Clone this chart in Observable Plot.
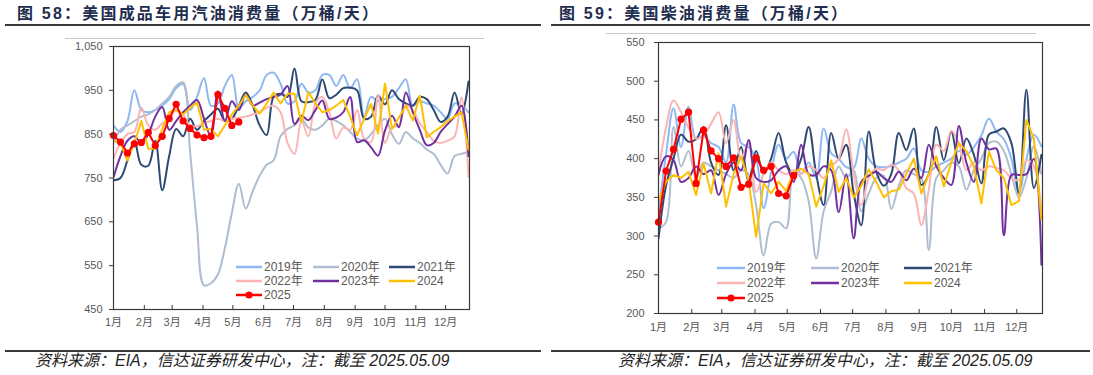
<!DOCTYPE html>
<html><head><meta charset="utf-8">
<script src="https://cdn.jsdelivr.net/npm/d3@7"></script>
<script src="https://cdn.jsdelivr.net/npm/@observablehq/plot@0.6"></script>
<style>
body{margin:0;background:#fff;width:1093px;height:375px;position:relative;overflow:hidden;font-family:"Liberation Sans","Noto Sans CJK SC",sans-serif;}
.abs{position:absolute;}
.title{position:absolute;top:4px;font-weight:bold;font-size:16px;letter-spacing:2.2px;line-height:20px;color:#1f2d4f;font-family:"Liberation Sans","Noto Sans CJK SC",sans-serif;white-space:nowrap;}
.rule{position:absolute;height:2px;background:#3a3a3a;}
.thin{position:absolute;height:1px;background:#c8c8c8;}
.foot{position:absolute;top:352px;font-style:italic;font-size:16px;line-height:18px;color:#222;white-space:nowrap;font-family:"Liberation Sans","Noto Sans CJK SC",sans-serif;}
.leg{position:absolute;font-size:12px;line-height:14px;color:#595959;white-space:nowrap;}
</style>
</head><body>
<div id="root"></div>
<script>
// ---------- shared labels ----------
const monthLabels = ["1月","2月","3月","4月","5月","6月","7月","8月","9月","10月","11月","12月"];
const monthStartDays = [0,31,59,90,120,151,181,212,243,273,304,334];
const seriesNames = ["2019年","2020年","2021年","2022年","2023年","2024","2025"];
const seriesColors = ["#8FB9F2","#B0BDD0","#2E4A74","#FBB4B4","#7030A0","#FFC000","#FF0000"];
const smoothFlags = [true,true,true,true,true,false,false];

// ---------- gasoline (万桶/天) weekly ----------
const gas2019 = [870,855,880,950,905,900,905,915,930,955,965,905,935,978,915,920,960,985,910,925,935,950,985,990,965,920,925,965,945,950,985,985,960,985,955,975,890,935,925,930,935,955,975,915,925,920,915,900,885,920,915,900];
const gas2020 = [830,860,870,880,890,895,905,920,935,960,968,810,640,505,510,530,590,670,737,680,720,755,780,790,845,862,870,885,865,860,870,885,880,870,855,840,836,850,870,885,850,828,855,840,830,815,805,780,760,800,805,810];
const gas2021 = [745,750,790,835,780,778,835,722,800,862,845,885,860,880,895,908,880,885,915,945,915,870,848,935,942,935,1000,925,923,928,975,932,940,955,956,950,885,890,938,918,950,930,920,915,935,930,905,878,890,945,895,970];
const gas2022 = [795,830,850,855,910,870,860,875,885,905,895,870,868,875,880,885,880,885,888,890,895,900,910,915,900,830,805,880,845,920,935,900,840,865,860,905,840,832,940,830,865,870,915,905,875,855,835,830,835,845,935,752];
const gas2023 = [752,800,835,845,830,850,890,912,860,880,900,915,928,885,845,948,880,925,905,940,915,922,930,935,940,960,873,892,882,905,927,885,888,900,935,832,836,820,801,858,892,866,945,900,860,825,830,855,873,890,915,800];
const gas2024 = [835,830,790,830,880,817,817,862,900,905,895,910,922,860,862,845,870,895,915,940,915,897,920,945,920,942,942,877,946,920,900,905,915,928,890,847,885,919,851,965,862,888,915,881,938,843,855,866,880,890,900,815];
const gas2025 = [847,832,807,828,831,854,824,845,886,918,880,863,848,842,845,940,909,870,878];
const gasTicks = [450,550,650,750,850,950,1050];

// ---------- diesel (万桶/天) weekly ----------
const dsl2019 = [330,405,465,415,467,425,430,420,415,395,470,420,415,400,336,383,418,400,409,380,395,375,439,407,400,389,388,426,400,390,389,390,395,400,413,385,383,390,395,400,410,405,415,430,452,435,425,400,357,400,431,416];
const dsl2020 = [310,318,441,390,410,375,395,390,385,380,375,385,380,340,275,316,318,310,383,375,345,271,332,358,390,375,385,332,355,375,378,335,365,385,380,375,282,375,385,395,390,360,385,400,420,422,410,380,350,375,416,380];
const dsl2021 = [297,365,400,431,422,425,441,395,379,443,385,415,370,410,380,400,433,395,380,400,441,380,340,433,400,418,355,314,435,383,365,380,433,411,439,366,380,441,398,435,394,426,405,368,431,435,439,420,355,489,362,405];
const dsl2022 = [383,440,475,460,440,426,430,445,460,420,450,400,420,357,380,395,385,380,385,380,390,385,375,390,400,438,380,340,375,387,385,392,385,362,355,314,360,418,410,436,420,385,395,385,390,388,385,375,372,398,390,330];
const dsl2023 = [379,403,398,370,375,390,380,385,353,380,395,385,424,375,370,372,385,390,370,418,380,379,390,385,331,380,297,370,378,383,375,370,383,372,387,375,418,390,375,366,442,395,370,426,412,413,301,379,379,380,400,263];
const dsl2024 = [345,370,379,375,383,353,394,355,407,338,380,403,372,299,368,355,370,358,383,387,380,338,365,398,357,375,350,365,386,370,350,358,360,380,400,355,380,403,364,395,420,410,390,342,409,385,375,340,345,450,426,322];
const dsl2025 = [318,384,412,451,460,368,437,410,400,390,401,363,367,401,385,390,355,352,378];
const dslTicks = [200,250,300,350,400,450,500,550];

// ---------- texts ----------
const titles = ["图 58：美国成品车用汽油消费量（万桶/天）","图 59：美国柴油消费量（万桶/天）"];
const footText = "资料来源：EIA，信达证券研发中心，注：截至 2025.05.09";

const FONT = '"Liberation Sans","Noto Sans CJK SC",sans-serif';

function toRows(arrs) {
  const rows = [];
  arrs.forEach((a, s) => a.forEach((v, i) => rows.push({x: i * 7, y: v, s})));
  return rows;
}

function makeChart(cfg) {
  const rows = toRows(cfg.series);
  const marks = [];
  cfg.series.forEach((a, s) => {
    const data = rows.filter(r => r.s === s);
    marks.push(Plot.line(data, {x: "x", y: "y", stroke: seriesColors[s], strokeWidth: 2,
      curve: smoothFlags[s] ? "catmull-rom" : "linear", clip: true}));
  });
  marks.push(Plot.dot(rows.filter(r => r.s === 6), {x: "x", y: "y", r: 3.6, fill: seriesColors[6]}));
  marks.push(Plot.frame({stroke: "#3a3a3a", strokeWidth: 1.2}));
  marks.push(Plot.axisY({ticks: cfg.yTicks, tickSize: 4, tickPadding: cfg.yPad, stroke: "#3a3a3a",
    tickFormat: cfg.yFormat, fill: "#595959", label: null}));
  marks.push(Plot.axisX({ticks: monthStartDays, tickSize: 4, dy: -4, stroke: "#3a3a3a", tickFormat: () => "", label: null}));
  marks.push(Plot.axisX({ticks: monthStartDays, tickSize: 0, tickPadding: cfg.xPad, fill: "#595959", label: null,
    tickFormat: d => monthLabels[monthStartDays.indexOf(d)]}));
  const svg = Plot.plot({
    width: cfg.width, height: 340,
    marginLeft: cfg.ml, marginRight: cfg.mr, marginTop: cfg.mt, marginBottom: cfg.mb,
    x: {domain: [0, 358], axis: null, label: null},
    y: {domain: cfg.yDomain, axis: null, label: null},
    style: {fontFamily: FONT, fontSize: "11px", color: "#595959", background: "transparent", overflow: "visible"},
    marks
  });
  svg.style.position = "absolute";
  svg.style.left = cfg.left + "px";
  svg.style.top = "0px";
  return svg;
}

const root = document.getElementById("root");
function add(html) { root.insertAdjacentHTML("beforeend", html); }

// Titles and rules
add(`<div class="title" style="left:17px">${titles[0]}</div>`);
add(`<div class="title" style="left:559px">${titles[1]}</div>`);
add(`<div class="rule" style="left:5px;top:24px;width:536px"></div>`);
add(`<div class="rule" style="left:551px;top:24px;width:539px"></div>`);
add(`<div class="thin" style="left:65px;top:38px;width:419px"></div>`);
add(`<div class="thin" style="left:606px;top:33px;width:430px"></div>`);

root.appendChild(makeChart({
  series: [gas2019, gas2020, gas2021, gas2022, gas2023, gas2024, gas2025],
  yDomain: [450, 1050], yTicks: gasTicks, yFormat: d3.format(","), yPad: 7, xPad: 9,
  width: 546, left: 0, ml: 113, mr: 77, mt: 46, mb: 31
}));
root.appendChild(makeChart({
  series: [dsl2019, dsl2020, dsl2021, dsl2022, dsl2023, dsl2024, dsl2025],
  yDomain: [200, 550], yTicks: dslTicks, yFormat: d => String(d), yPad: 10, xPad: 10,
  width: 547, left: 546, ml: 112, mr: 51, mt: 42, mb: 27
}));

// Legends
function legend(cols, rowsY, lineW) {
  seriesNames.forEach((name, s) => {
    const c = s % 3, r = Math.floor(s / 3);
    const x0 = cols[c], y = rowsY[r];
    const dot = s === 6 ? `<circle cx="${lineW/2}" cy="5" r="3.6" fill="${seriesColors[s]}"/>` : "";
    add(`<svg class="abs" style="left:${x0}px;top:${y-5}px" width="${lineW}" height="10"><line x1="0" x2="${lineW}" y1="5" y2="5" stroke="${seriesColors[s]}" stroke-width="2.5"/>${dot}</svg>`);
    add(`<div class="leg" style="left:${x0 + lineW + 2}px;top:${y-7}px">${name}</div>`);
  });
}
legend([236, 313, 389], [266.5, 280.5, 294.5], 26);
legend([717, 811, 904], [267.5, 282.5, 297.5], 28);

// Footer
add(`<div class="rule" style="left:5px;top:350px;width:536px;height:1.5px"></div>`);
add(`<div class="rule" style="left:551px;top:350px;width:539px;height:1.5px"></div>`);
add(`<div class="foot" style="left:35px">${footText}</div>`);
add(`<div class="foot" style="left:618px">${footText}</div>`);
</script>
</body></html>
